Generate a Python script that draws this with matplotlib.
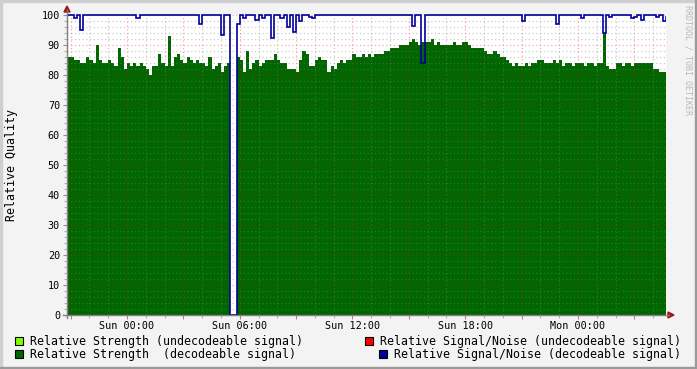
import numpy as np
import matplotlib
matplotlib.use("Agg")
import matplotlib.pyplot as plt
from matplotlib.lines import Line2D
from matplotlib.patches import Rectangle, Polygon
from matplotlib.ticker import MultipleLocator, FuncFormatter
from matplotlib.transforms import Bbox, TransformedBbox

W, H = 697, 369

# samples every 10 minutes, first one at Sat 20:50 (hours relative to Sun 00:00)
start_hour = -3 - 1 / 6
step_hours = 1 / 6

# Relative Strength (decodeable signal)
strength_ok = [
    86, 86, 85, 85, 84, 84, 86, 85, 84, 90,
    85, 84, 84, 85, 84, 83, 89, 86, 82, 84,
    83, 84, 83, 84, 83, 82, 80, 83, 83, 87,
    84, 83, 93, 83, 86, 87, 85, 84, 86, 85,
    84, 85, 84, 84, 83, 86, 82, 83, 84, 81,
    83, 84, 0, 0, 86, 85, 81, 88, 82, 84,
    85, 83, 84, 85, 85, 85, 87, 85, 84, 84,
    82, 82, 82, 81, 85, 88, 87, 83, 83, 85,
    86, 85, 85, 81, 83, 82, 84, 85, 84, 85,
    85, 87, 86, 86, 87, 86, 87, 86, 87, 87,
    87, 88, 88, 89, 89, 89, 90, 90, 90, 91,
    92, 91, 90, 91, 91, 91, 92, 90, 91, 90,
    90, 90, 90, 91, 90, 90, 91, 91, 90, 89,
    89, 89, 89, 88, 87, 87, 88, 87, 86, 86,
    85, 84, 83, 84, 83, 83, 84, 83, 84, 84,
    85, 85, 84, 84, 84, 85, 84, 85, 83, 84,
    84, 83, 84, 84, 84, 83, 84, 84, 83, 84,
    84, 94, 83, 82, 82, 84, 84, 83, 84, 84,
    83, 84, 84, 84, 84, 84, 84, 82, 82, 81,
    81, 81,
]

# Relative Signal/Noise (decodeable signal)
snr_ok = [
    100, 100, 99, 100, 95, 100, 100, 100, 100, 100,
    100, 100, 100, 100, 100, 100, 100, 100, 100, 100,
    100, 100, 99, 100, 100, 100, 100, 100, 100, 100,
    100, 100, 100, 100, 100, 100, 100, 100, 100, 100,
    100, 100, 97, 100, 100, 100, 100, 100, 100, 93.5,
    100, 100, 0, 0, 97, 100, 99, 100, 100, 100,
    98.5, 100, 99, 100, 100, 92.5, 100, 100, 99, 100,
    96, 100, 94.5, 100, 98, 100, 100, 99.5, 99, 100,
    100, 100, 100, 100, 100, 100, 100, 100, 100, 100,
    100, 100, 100, 100, 100, 100, 100, 100, 100, 100,
    100, 100, 100, 100, 100, 100, 100, 100, 100, 100,
    96.5, 100, 100, 84, 100, 100, 100, 100, 100, 100,
    100, 100, 100, 100, 100, 100, 100, 100, 100, 100,
    100, 100, 100, 100, 100, 100, 100, 100, 100, 100,
    100, 100, 100, 100, 100, 98, 100, 100, 100, 100,
    100, 100, 100, 100, 100, 100, 97, 100, 100, 100,
    100, 100, 100, 100, 99, 100, 100, 100, 100, 100,
    100, 94, 100, 99.5, 100, 100, 100, 100, 100, 100,
    99, 99.5, 100, 98.5, 100, 100, 100, 100, 99.5, 100,
    98, 99.5,
]

tick_hours = [0, 6, 12, 18, 24]
tick_labels = ["Sun 00:00", "Sun 06:00", "Sun 12:00", "Sun 18:00", "Mon 00:00"]

legend_labels = [
    "Relative Strength (undecodeable signal)",
    "Relative Strength  (decodeable signal)",
    "Relative Signal/Noise (undecodeable signal)",
    "Relative Signal/Noise (decodeable signal)",
]
legend_colors = ["#80ff00", "#006600", "#ff0000", "#000099"]

plt.rcParams["font.family"] = ["DejaVu Sans Mono"]


def fx(x):
    return x / W


def fy(y):
    return 1 - y / H


fig = plt.figure(figsize=(W / 100, H / 100), dpi=100, facecolor="#f3f3f3")
ax = fig.add_axes([fx(67), fy(315), (666 - 67) / W, 300 / H])
ax.set_facecolor("white")

n = len(strength_ok)
edges = start_hour + np.arange(n + 1) * step_hours

ax.stairs(strength_ok, edges, fill=True, color="#006600", baseline=0, zorder=1)
snr = ax.stairs(snr_ok, edges, baseline=None, color="#000099", lw=1.2, zorder=3)
snr.set_clip_box(TransformedBbox(Bbox([[0, -0.02], [1, 1.02]]), ax.transAxes))

ax.set_xlim(-3.193, 28.685)
ax.set_ylim(0, 100)

label_map = dict(zip(tick_hours, tick_labels))
ax.xaxis.set_major_locator(MultipleLocator(3))
ax.xaxis.set_minor_locator(MultipleLocator(1))
ax.xaxis.set_major_formatter(FuncFormatter(lambda v, p: label_map.get(int(round(v)), "")))
ax.yaxis.set_major_locator(MultipleLocator(10))
ax.yaxis.set_minor_locator(MultipleLocator(2))

ax.set_axisbelow(False)
ax.grid(which="minor", color="#808080", alpha=0.4, linestyle=(0, (1, 2)), lw=0.9)
ax.grid(which="major", color="#ff0000", alpha=0.35, linestyle=(0, (1, 2)), lw=0.9)

ax.tick_params(which="major", length=3, width=0.8, color="#909090", labelsize=7.3, pad=2)
ax.tick_params(axis="x", which="major", pad=1)
ax.tick_params(which="minor", length=2, width=0.8, color="#b0b0b0")
for sp in ax.spines.values():
    sp.set_visible(False)

# axes with arrows
fig.add_artist(Line2D([fx(67), fx(67)], [fy(318), fy(10)], color="#808080", lw=1))
fig.add_artist(Line2D([fx(63), fx(669)], [fy(315), fy(315)], color="#808080", lw=1))
fig.add_artist(Polygon([(fx(64), fy(12)), (fx(70), fy(12)), (fx(67), fy(6))], closed=True, color="#a01818"))
fig.add_artist(Polygon([(fx(668), fy(312)), (fx(668), fy(318)), (fx(674), fy(315))], closed=True, color="#a01818"))

fig.text(fx(12), fy(165), "Relative Quality", rotation=90, ha="center", va="center", fontsize=8.4)
fig.text(fx(688), fy(5), "RRDTOOL / TOBI OETIKER", rotation=270, ha="center", va="top",
         fontsize=6, color="#b8b8b8")

# legend
sq = [(15, 337), (15, 350), (365, 337), (379, 350)]
tx = [30, 30, 380, 394]
for (sx, sy), x0, lab, col in zip(sq, tx, legend_labels, legend_colors):
    fig.add_artist(Rectangle((fx(sx), fy(sy + 8)), 8 / W, 8 / H, facecolor=col,
                             edgecolor="black", lw=0.8, transform=fig.transFigure))
    fig.text(fx(x0), fy(sy + 4.5), lab, ha="left", va="center", fontsize=8.35)

# frame
fig.add_artist(Rectangle((0, fy(2)), 1, 2 / H, color="#cfcfcf", transform=fig.transFigure))
fig.add_artist(Rectangle((0, 0), 2 / W, 1, color="#cfcfcf", transform=fig.transFigure))
fig.add_artist(Rectangle((0, 0), 1, 2 / H, color="#9a9a9a", transform=fig.transFigure))
fig.add_artist(Rectangle((fx(695), 0), 2 / W, 1, color="#9a9a9a", transform=fig.transFigure))

fig.savefig("out.png", dpi=100, facecolor=fig.get_facecolor())
